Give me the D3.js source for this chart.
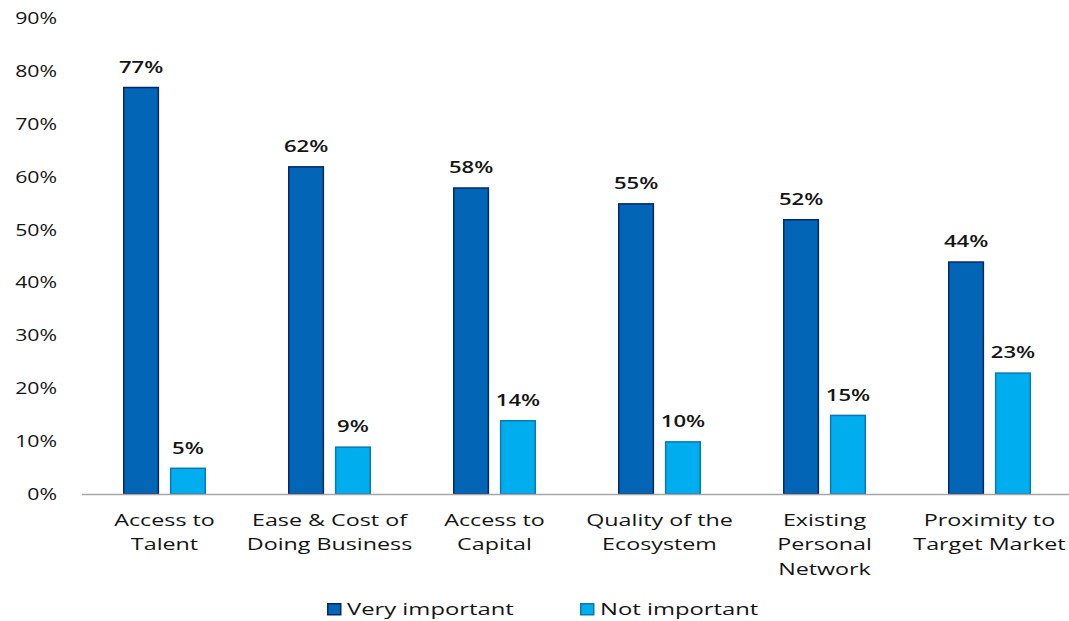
<!DOCTYPE html>
<html>
<head>
<meta charset="utf-8">
<script src="https://cdn.jsdelivr.net/npm/d3@7/dist/d3.min.js"></script>
<style>
  html, body { margin: 0; padding: 0; background: #fff; }
  svg text { font-family: "Open Sans", "Noto Sans", sans-serif; fill: #141414; }
</style>
</head>
<body>
<svg id="chart" width="1069" height="621"></svg>
<script>
// Location factors: share of respondents rating each factor
const categories = [
  ["Access to", "Talent"],
  ["Ease & Cost of", "Doing Business"],
  ["Access to", "Capital"],
  ["Quality of the", "Ecosystem"],
  ["Existing", "Personal", "Network"],
  ["Proximity to", "Target Market"]
];
const veryImportant = [77, 62, 58, 55, 52, 44];
const notImportant = [5, 9, 14, 10, 15, 23];
const seriesNames = ["Very important", "Not important"];
const yTicks = [0, 10, 20, 30, 40, 50, 60, 70, 80, 90];

const svg = d3.select("#chart");
const margin = { left: 82, right: -3, top: 18, bottom: 127 };
const W = 1069, H = 621;
const plotBottom = H - margin.bottom;

// wide text: glyphs drawn horizontally stretched around an anchor point (d.px, d.py)
function wideText(enter, sx, cls) {
  return enter.append("g")
    .attr("class", cls)
    .attr("transform", d => `translate(${d.px},${d.py}) scale(${sx},1)`)
    .append("text");
}

const x0 = d3.scaleBand()
  .domain(d3.range(categories.length))
  .range([margin.left, W - margin.right])
  .paddingInner(0).paddingOuter(0);

const x1 = d3.scaleBand()
  .domain([0, 1])
  .range([41, x0.bandwidth() - 41])
  .paddingInner(0.23);

const y = d3.scaleLinear().domain([0, 90]).range([plotBottom, margin.top]);

const fills = ["#0265b5", "#00aeef"];
const strokes = ["#06286b", "#0b78b0"];

// y-axis tick labels
svg.append("g").selectAll("g.tick")
  .data(yTicks.map(t => ({ t, px: 57, py: y(t) })))
  .join(enter => wideText(enter, 1.25, "tick"))
  .attr("dy", "0.35em")
  .attr("text-anchor", "end")
  .style("font-size", "17px")
  .text(d => d.t + "%");

// bars
const groups = svg.append("g").selectAll("g")
  .data(categories.map((c, i) => ({ i, vals: [veryImportant[i], notImportant[i]] })))
  .join("g")
  .attr("transform", d => `translate(${x0(d.i)},0)`);

groups.selectAll("rect")
  .data(d => d.vals.map((v, s) => ({ v, s })))
  .join("rect")
  .attr("x", d => x1(d.s) + 0.75)
  .attr("width", x1.bandwidth() - 1.5)
  .attr("y", d => y(d.v) + 0.75)
  .attr("height", d => y(0) - y(d.v) - 0.75)
  .attr("fill", d => fills[d.s])
  .attr("stroke", d => strokes[d.s])
  .attr("stroke-width", 1.5);

// value labels
groups.selectAll("g.val")
  .data(d => d.vals.map((v, s) => ({ v, s, px: x1(s) + x1.bandwidth() / 2, py: y(v) - 14 })))
  .join(enter => wideText(enter, 1.3, "val"))
  .attr("text-anchor", "middle")
  .style("font-size", "17px")
  .style("font-weight", "600")
  .text(d => d.v + "%");

// baseline
svg.append("line")
  .attr("x1", margin.left).attr("x2", W)
  .attr("y1", y(0) + 0.5).attr("y2", y(0) + 0.5)
  .attr("stroke", "#a6a6a6").attr("stroke-width", 1.5);

// category labels
const catText = svg.append("g").selectAll("g.cat")
  .data(categories.map((c, i) => ({ c, i, px: x0(i) + x0.bandwidth() / 2, py: y(0) + 32 })))
  .join(enter => wideText(enter, 1.37, "cat"))
  .attr("text-anchor", "middle")
  .style("font-size", "17px");
catText.selectAll("tspan")
  .data(d => d.c)
  .join("tspan")
  .attr("x", 0)
  .attr("dy", (d, k) => k === 0 ? 0 : 24.5)
  .text(d => d);

// legend
const legendX = [327, 580];
const legend = svg.append("g").selectAll("g.item")
  .data(seriesNames.map((n, s) => ({ n, s })))
  .join("g")
  .attr("class", "item")
  .attr("transform", d => `translate(${legendX[d.s]},603)`);
legend.append("rect")
  .attr("x", 0.75).attr("y", 0.75)
  .attr("width", 13).attr("height", 11)
  .attr("fill", d => fills[d.s])
  .attr("stroke", d => strokes[d.s])
  .attr("stroke-width", 1.5);
legend.selectAll("g.label")
  .data(d => [{ n: d.n, px: 20, py: 6 }])
  .join(enter => wideText(enter, 1.4, "label"))
  .attr("dy", "0.35em")
  .style("font-size", "17px")
  .text(d => d.n);
</script>
</body>
</html>
